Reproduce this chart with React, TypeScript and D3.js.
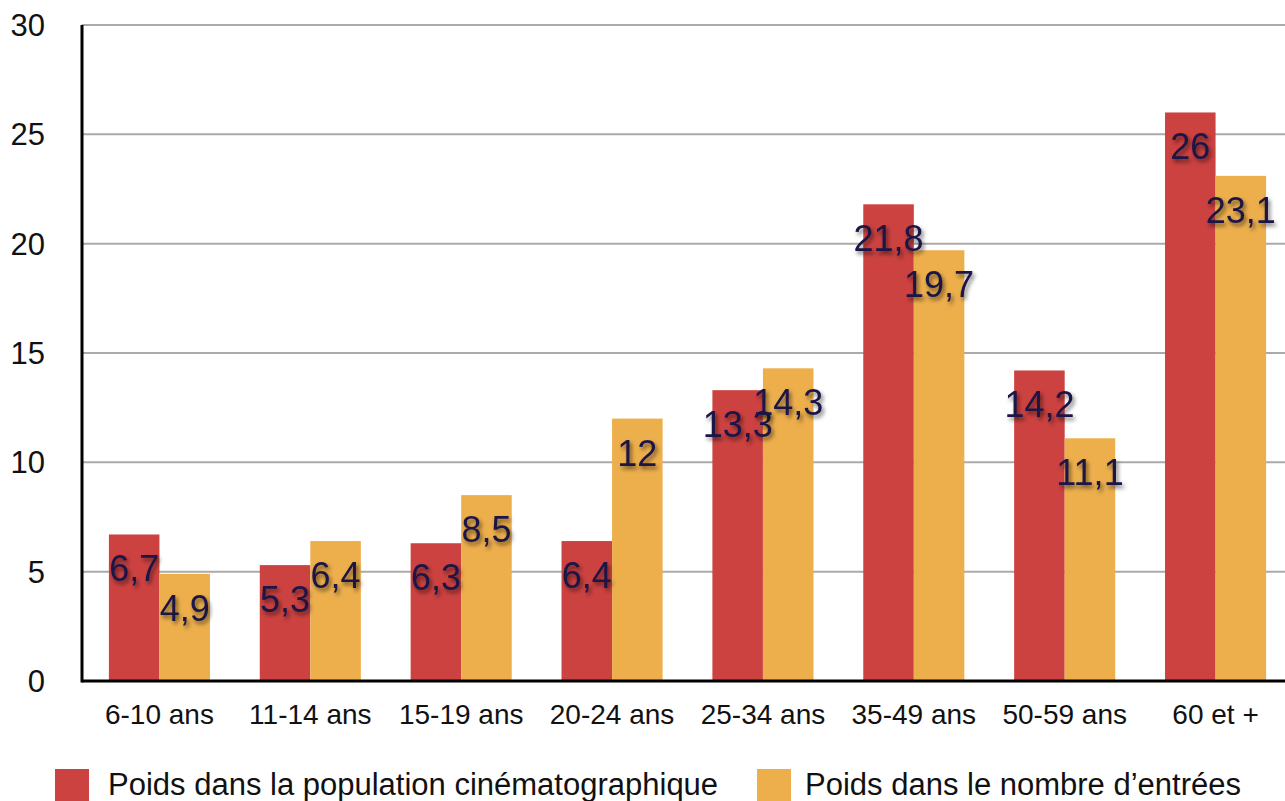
import React from "react";
import * as d3 from "d3";

const categories = ["6-10 ans", "11-14 ans", "15-19 ans", "20-24 ans", "25-34 ans", "35-49 ans", "50-59 ans", "60 et +"];
const seriesNames = ["Poids dans la population cinématographique", "Poids dans le nombre d’entrées"];
const population = [6.7, 5.3, 6.3, 6.4, 13.3, 21.8, 14.2, 26];
const entrees = [4.9, 6.4, 8.5, 12, 14.3, 19.7, 11.1, 23.1];
const yTicks = [0, 5, 10, 15, 20, 25, 30];
const colors = ["#CC4240", "#EDAF4C"];

const W = 1285;
const H = 801;
const left = 82;
const top = 25;
const bottom = 681;
const font = "'Liberation Sans', Arial, Helvetica, sans-serif";

export default function App() {
  const y = d3.scaleLinear().domain([0, 30]).range([bottom, top]);
  const x0 = d3.scaleBand<string>().domain(categories).range([84, 1291]).paddingInner(0.33).paddingOuter(0.165);
  const x1 = d3.scaleBand<string>().domain(["0", "1"]).range([0, x0.bandwidth()]);
  const series = [population, entrees];
  const fmt = (v: number) => String(v).replace(".", ",");

  return (
    <svg width={W} height={H} style={{ position: "fixed", left: 0, top: 0, background: "#fff" }}>
      <defs>
        <filter id="sh" x="-30%" y="-30%" width="160%" height="160%">
          <feDropShadow dx="2" dy="3" stdDeviation="2" floodColor="#000" floodOpacity="0.55" />
        </filter>
      </defs>
      {yTicks.map((t) => (
        <g key={t}>
          <line x1={left} x2={W} y1={y(t)} y2={y(t)} stroke="#aaa" strokeWidth={2} />
          <text x={45} y={y(t)} dy="0.36em" textAnchor="end" fontFamily={font} fontSize={31} fill="#111">
            {t}
          </text>
        </g>
      ))}
      {categories.map((c, i) => (
        <g key={c} transform={`translate(${x0(c)},0)`}>
          {series.map((s, j) => (
            <rect key={j} x={x1(String(j))} y={y(s[i])} width={x1.bandwidth()} height={y(0) - y(s[i])} fill={colors[j]} />
          ))}
        </g>
      ))}
      {categories.map((c, i) => (
        <g key={c} transform={`translate(${x0(c)},0)`}>
          {series.map((s, j) => (
            <text
              key={j}
              x={(x1(String(j)) as number) + x1.bandwidth() / 2}
              y={y(s[i]) + 47}
              textAnchor="middle"
              fontFamily={font}
              fontSize={36}
              fill="#1b1446"
              filter="url(#sh)"
            >
              {fmt(s[i])}
            </text>
          ))}
          <text x={x0.bandwidth() / 2} y={724} textAnchor="middle" fontFamily={font} fontSize={28} fill="#111">
            {c}
          </text>
        </g>
      ))}
      <line x1={left} x2={left} y1={top} y2={bottom + 1.5} stroke="#000" strokeWidth={3} />
      <line x1={left} x2={W} y1={bottom} y2={bottom} stroke="#000" strokeWidth={3} />
      <rect x={55} y={769} width={34} height={34} fill={colors[0]} />
      <text x={108} y={795} fontFamily={font} fontSize={31} fill="#111">
        {seriesNames[0]}
      </text>
      <rect x={757} y={769} width={34} height={34} fill={colors[1]} />
      <text x={805} y={795} fontFamily={font} fontSize={31} fill="#111">
        {seriesNames[1]}
      </text>
    </svg>
  );
}
